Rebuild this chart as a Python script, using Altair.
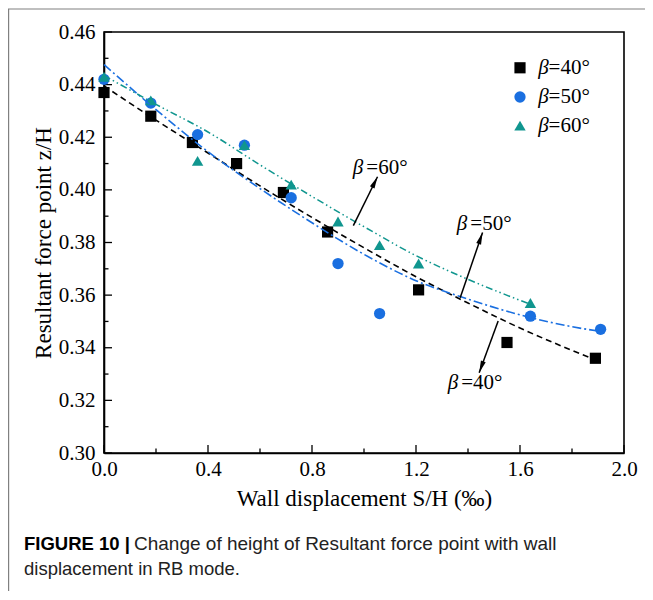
import math
import altair as alt
import pandas as pd

# ---------------- data ----------------
x40 = [0.0, 0.18, 0.34, 0.51, 0.69, 0.86, 1.21, 1.55, 1.89]
y40 = [0.437, 0.428, 0.418, 0.410, 0.399, 0.384, 0.362, 0.342, 0.336]
x50 = [0.0, 0.18, 0.36, 0.54, 0.72, 0.90, 1.06, 1.64, 1.91]
y50 = [0.442, 0.433, 0.421, 0.417, 0.397, 0.372, 0.353, 0.352, 0.347]
x60 = [0.0, 0.18, 0.36, 0.54, 0.72, 0.90, 1.06, 1.21, 1.64]
y60 = [0.443, 0.434, 0.411, 0.417, 0.402, 0.388, 0.379, 0.372, 0.357]

fit40_x = [0.0, 0.2, 0.4, 0.6, 0.8, 1.0, 1.2, 1.4, 1.6, 1.8, 1.9]
fit40_y = [0.4395, 0.4265, 0.414, 0.4015, 0.3895, 0.378, 0.367, 0.357, 0.3475, 0.339, 0.335]
fit50_x = [0.0, 0.2, 0.4, 0.6, 0.8, 1.0, 1.2, 1.4, 1.6, 1.8, 1.91]
fit50_y = [0.4476, 0.4305, 0.4145, 0.4005, 0.3875, 0.3755, 0.3655, 0.3585, 0.3525, 0.348, 0.3462]
fit60_x = [0.0, 0.2, 0.4, 0.6, 0.8, 1.0, 1.2, 1.4, 1.64]
fit60_y = [0.4435, 0.4325, 0.422, 0.4095, 0.3975, 0.386, 0.375, 0.366, 0.3565]

series = ["β=40°", "β=50°", "β=60°"]
suffix = ["=40°", "=50°", "=60°"]
colors = ["#000000", "#1a6fe0", "#10968f"]
shapes = ["square", "circle", "triangle-up"]
msizes = [125, 130, 260]

x_major = [0.0, 0.4, 0.8, 1.2, 1.6, 2.0]
x_minor = [0.2, 0.6, 1.0, 1.4, 1.8]
y_major = [0.30, 0.32, 0.34, 0.36, 0.38, 0.40, 0.42, 0.44, 0.46]
y_minor = [0.31, 0.33, 0.35, 0.37, 0.39, 0.41, 0.43, 0.45]

# legend entries (data coordinates)
leg_x = 1.6
leg_text_x = 1.71
leg_y = [0.4464, 0.4353, 0.4244]

# annotations: text junction and arrows (tail -> head)
ann_suffix = ["=60°", "=50°", "=40°"]
ann_x = [1.005, 1.405, 1.37]
ann_y = [0.4085, 0.387, 0.3265]
arr_tx = [0.959, 1.370, 1.516]
arr_ty = [0.3864, 0.3590, 0.3502]
arr_hx = [1.052, 1.456, 1.443]
arr_hy = [0.405, 0.3838, 0.3305]

caption_bold = "FIGURE 10 |"
caption_1 = "Change of height of Resultant force point with wall"
caption_2 = "displacement in RB mode."

# ---------------- layout ----------------
W, H = 520, 421
XD = [0.0, 2.0]
YD = [0.30, 0.46]
PX = W / (XD[1] - XD[0])
PY = H / (YD[1] - YD[0])
SERIF = "Liberation Serif"
SANS = "Liberation Sans"

xs = alt.Scale(domain=XD, nice=False, zero=False)
ys = alt.Scale(domain=YD, nice=False, zero=False)
xaxis = alt.Axis(title="Wall displacement S/H (‰)", values=x_major, format=".1f",
                 ticks=False, grid=False, labelPadding=5, titleY=45,
                 titleBaseline="middle", labelFlush=False)
yaxis = alt.Axis(title="Resultant force point z/H", values=y_major, format=".2f",
                 ticks=False, grid=False, labelPadding=9, titleX=-61,
                 titleBaseline="middle", labelFlush=False)


def X(f):
    return alt.X(f, type="quantitative", scale=xs, axis=xaxis)


def Y(f):
    return alt.Y(f, type="quantitative", scale=ys, axis=yaxis)


pts = pd.DataFrame({
    "x": x40 + x50 + x60,
    "y": y40 + y50 + y60,
    "s": [series[0]] * len(x40) + [series[1]] * len(x50) + [series[2]] * len(x60),
})

shape_enc = alt.Shape("s:N", scale=alt.Scale(domain=series, range=shapes), legend=None)
color_enc = alt.Color("s:N", scale=alt.Scale(domain=series, range=colors), legend=None)
size_enc = alt.Size("s:N", scale=alt.Scale(domain=series, range=msizes), legend=None)

points = alt.Chart(pts).mark_point(filled=True, opacity=1).encode(
    x=X("x"), y=Y("y"), shape=shape_enc, color=color_enc, size=size_enc)


def fit_line(xv, yv, color, dash, w):
    df = pd.DataFrame({"x": xv, "y": yv})
    return alt.Chart(df).mark_line(color=color, strokeDash=dash, strokeWidth=w,
                                   interpolate="monotone").encode(x=X("x"), y=Y("y"))


l40 = fit_line(fit40_x, fit40_y, colors[0], [6, 4], 1.6)
l50 = fit_line(fit50_x, fit50_y, colors[1], [9, 3, 2, 3], 1.6)
l60 = fit_line(fit60_x, fit60_y, colors[2], [7, 3, 1.5, 3, 1.5, 3], 1.5)


# inward ticks
def xticks(vals, length):
    df = pd.DataFrame({"v": vals})
    return alt.Chart(df).mark_rule(color="black", strokeWidth=1.3).encode(
        x=X("v"), y=alt.value(H), y2=alt.value(H - length))


def yticks(vals, length):
    df = pd.DataFrame({"v": vals})
    return alt.Chart(df).mark_rule(color="black", strokeWidth=1.3).encode(
        y=Y("v"), x=alt.value(0), x2=alt.value(length))


# legend
leg = pd.DataFrame({"s": series, "x": [leg_x] * 3, "y": leg_y,
                    "tx": [leg_text_x] * 3, "suf": suffix})
leg_pts = alt.Chart(leg).mark_point(filled=True, opacity=1).encode(
    x=X("x"), y=Y("y"), shape=shape_enc, color=color_enc, size=size_enc)
leg_beta = alt.Chart(leg).mark_text(text="β", font=SERIF, fontSize=21, fontStyle="italic",
                                    align="right", baseline="middle", color="black").encode(
    x=X("tx"), y=Y("y"))
leg_suf = alt.Chart(leg).mark_text(font=SERIF, fontSize=21, align="left",
                                   baseline="middle", color="black").encode(
    x=X("tx"), y=Y("y"), text="suf:N")

# annotations
ang = [math.degrees(math.atan2((hx - tx) * PX, (hy - ty) * PY)) % 360
       for tx, ty, hx, hy in zip(arr_tx, arr_ty, arr_hx, arr_hy)]
ann = pd.DataFrame({"ax": ann_x, "ay": ann_y, "suf": ann_suffix,
                    "tx": arr_tx, "ty": arr_ty, "hx": arr_hx, "hy": arr_hy, "ang": ang})
ann_beta = alt.Chart(ann).mark_text(text="β", font=SERIF, fontSize=21, fontStyle="italic",
                                    align="right", baseline="middle", dx=-2,
                                    color="black").encode(x=X("ax"), y=Y("ay"))
ann_suf = alt.Chart(ann).mark_text(font=SERIF, fontSize=21, align="left", baseline="middle",
                                   dx=1, color="black").encode(
    x=X("ax"), y=Y("ay"), text="suf:N")
arr_lines = alt.Chart(ann).mark_rule(color="black", strokeWidth=1.5).encode(
    x=X("tx"), y=Y("ty"), x2="hx", y2="hy")
arr_heads = alt.Chart(ann).mark_point(shape="M0,0L0.36,1.7L-0.36,1.7Z", filled=True,
                                      opacity=1, size=200, color="black").encode(
    x=X("hx"), y=Y("hy"), angle=alt.Angle("ang:Q", scale=None))

# caption and frame
cap = pd.DataFrame({"a": [caption_bold], "b": [caption_1], "c": [caption_2]})
cap_a = alt.Chart(cap).mark_text(font=SANS, fontSize=18.5, fontWeight="bold", align="left",
                                 baseline="alphabetic", color="black").encode(
    x=alt.value(-80), y=alt.value(518), text="a:N")
cap_b = alt.Chart(cap).mark_text(font=SANS, fontSize=19, align="left",
                                 baseline="alphabetic", color="#222222").encode(
    x=alt.value(30), y=alt.value(518), text="b:N")
cap_c = alt.Chart(cap).mark_text(font=SANS, fontSize=18.5, align="left",
                                 baseline="alphabetic", color="#222222").encode(
    x=alt.value(-80), y=alt.value(543), text="c:N")
frame_v = alt.Chart(cap).mark_rule(color="#808080", strokeWidth=1.2).encode(
    x=alt.value(-95.4), y=alt.value(-23), y2=alt.value(600))
frame_h = alt.Chart(cap).mark_rule(color="#808080", strokeWidth=1.2).encode(
    x=alt.value(-96), x2=alt.value(600), y=alt.value(-23))

chart = alt.layer(
    frame_v, frame_h,
    xticks(x_major, 8), xticks(x_minor, 4.5), yticks(y_major, 8), yticks(y_minor, 4.5),
    points, l40, l50, l60,
    leg_pts, leg_beta, leg_suf,
    arr_lines, arr_heads, ann_beta, ann_suf,
    cap_a, cap_b, cap_c,
).properties(
    width=W, height=H,
    autosize=alt.AutoSizeParams(type="none"),
    padding={"left": 96, "top": 24, "right": 21, "bottom": 138},
).configure_view(
    stroke="black", strokeWidth=1.6
).configure_axis(
    domainColor="black", domainWidth=1.6,
    labelFont=SERIF, labelFontSize=21, labelColor="black",
    titleFont=SERIF, titleFontSize=23, titleFontWeight="normal", titleColor="black",
)

chart.save("out.html", embed_options={"renderer": "svg", "actions": False})
